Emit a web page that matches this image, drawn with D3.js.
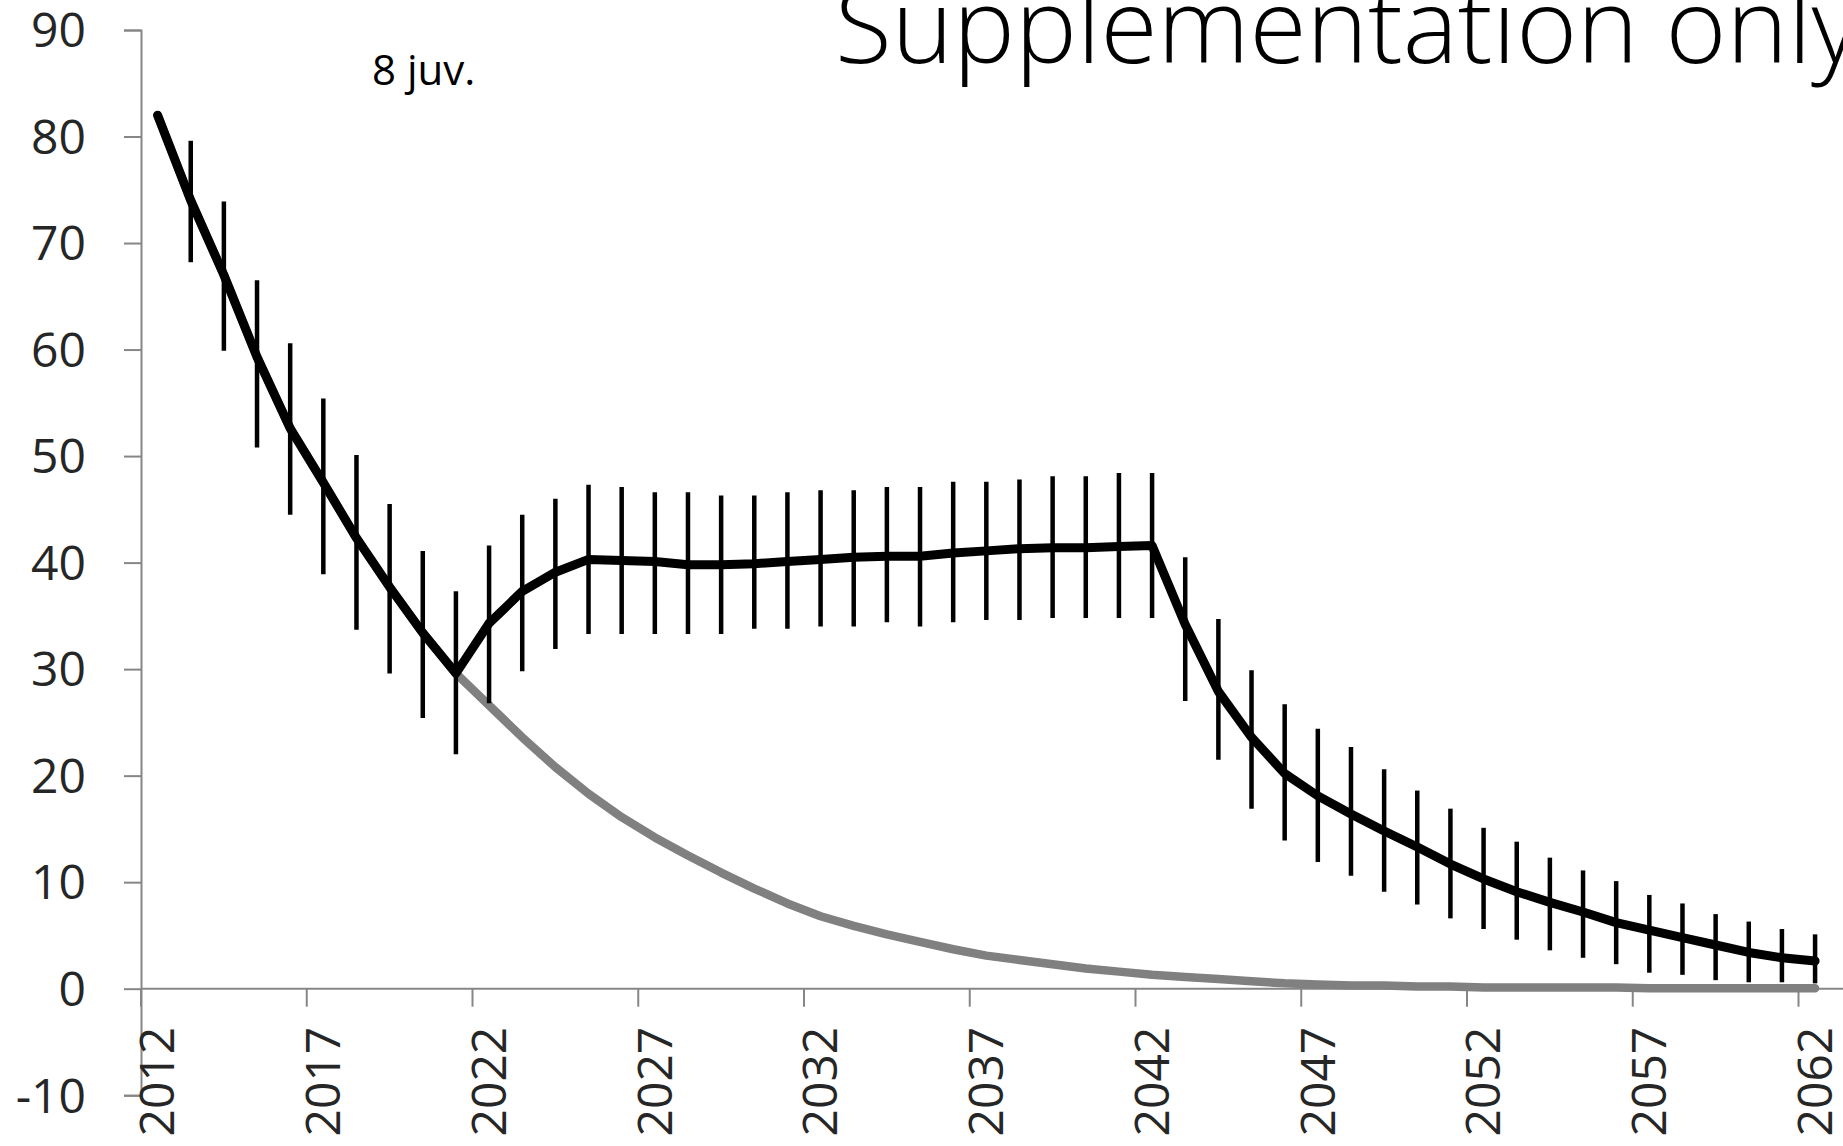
<!DOCTYPE html>
<html>
<head>
<meta charset="utf-8">
<script src="https://cdn.jsdelivr.net/npm/d3@7"></script>
<style>
  html, body { margin: 0; padding: 0; background: #ffffff; overflow: hidden; }
  svg { display: block; }
</style>
</head>
<body>
<svg id="chart" width="1843" height="1146"></svg>
<script>
// ---- data ----
const years = [2012,2013,2014,2015,2016,2017,2018,2019,2020,2021,2022,2023,2024,2025,2026,2027,2028,2029,2030,2031,
  2032,2033,2034,2035,2036,2037,2038,2039,2040,2041,2042,2043,2044,2045,2046,2047,2048,2049,2050,2051,
  2052,2053,2054,2055,2056,2057,2058,2059,2060,2061,2062];

const supplemented = [82.0,74.0,67.0,59.3,52.6,47.5,42.3,37.7,33.4,29.6,
  34.3,37.3,39.1,40.3,40.2,40.1,39.8,39.8,39.9,40.1,
  40.3,40.5,40.6,40.6,40.9,41.1,41.3,41.4,41.4,41.5,
  41.6,34.2,27.9,23.6,20.2,18.1,16.4,14.8,13.3,11.7,
  10.3,9.1,8.1,7.2,6.2,5.5,4.8,4.1,3.4,2.9,2.6];

const errUpper = [null,79.6,73.9,66.5,60.6,55.4,50.1,45.5,41.1,37.3,
  41.6,44.5,46.0,47.3,47.1,46.6,46.6,46.3,46.3,46.6,
  46.8,46.8,47.1,47.1,47.6,47.6,47.8,48.1,48.1,48.4,
  48.4,40.5,34.7,29.9,26.7,24.4,22.7,20.6,18.6,16.9,
  15.1,13.8,12.3,11.1,10.1,8.8,8.0,7.0,6.3,5.6,5.1];

const errLower = [null,68.2,59.9,50.8,44.5,38.9,33.7,29.6,25.4,22.0,
  26.8,29.8,31.9,33.3,33.3,33.3,33.3,33.3,33.8,33.8,
  34.0,34.0,34.4,34.0,34.4,34.6,34.6,34.8,34.8,34.8,
  34.8,27.0,21.5,16.9,13.9,11.9,10.6,9.1,7.9,6.6,
  5.6,4.6,3.6,2.9,2.3,1.5,1.3,0.8,0.6,0.6,0.5];

const noSupplement = [82.0,74.0,67.0,59.3,52.6,47.5,42.3,37.7,33.4,29.6,
  26.6,23.6,20.8,18.3,16.1,14.2,12.5,10.9,9.4,8.0,
  6.8,5.9,5.1,4.4,3.7,3.1,2.7,2.3,1.9,1.6,
  1.3,1.1,0.9,0.7,0.5,0.4,0.3,0.3,0.2,0.2,
  0.1,0.1,0.1,0.1,0.1,0.05,0.05,0.05,0.05,0.05,0.05];

const yTicks = [-10,0,10,20,30,40,50,60,70,80,90];
const xTickLabels = ["2012","2017","2022","2027","2032","2037","2042","2047","2052","2057","2062"];

const titleText = "Supplementation only";
const annotationText = "8 juv.";

// ---- layout ----
const svg = d3.select("#chart");
const axisColor = "#868686";
const labelColor = "#262626";
const fontFamily = "'Open Sans', 'Noto Sans', sans-serif";

const x = d3.scaleBand()
  .domain(years.map(String))
  .range([141, 141 + 51 * 33.15])
  .paddingInner(0).paddingOuter(0);
const cx = d => x(String(d)) + x.bandwidth() / 2;

const y = d3.scaleLinear().domain([-10, 90]).range([1095.2, 30]);

// ---- y axis ----
const yAxis = d3.axisLeft(y).tickValues(yTicks).tickSize(17).tickPadding(38).tickFormat(d => String(d));
const gy = svg.append("g").attr("transform", "translate(141,0)").call(yAxis);
gy.select(".domain").attr("stroke", axisColor).attr("stroke-width", 2);
gy.selectAll(".tick line").attr("stroke", axisColor).attr("stroke-width", 2);
gy.selectAll(".tick text")
  .attr("fill", labelColor)
  .style("font-family", fontFamily)
  .style("font-size", "48px")
  .attr("dy", "0.35em");

// ---- x axis (at y = 0) ----
const y0 = y(0);
svg.append("line")
  .attr("x1", 141).attr("x2", 1843)
  .attr("y1", y0).attr("y2", y0)
  .attr("stroke", axisColor).attr("stroke-width", 2);

const tickYears = xTickLabels.map(Number);
svg.append("g").selectAll("line.xt")
  .data(tickYears)
  .join("line")
  .attr("class", "xt")
  .attr("x1", d => x(String(d))).attr("x2", d => x(String(d)))
  .attr("y1", y0).attr("y2", y0 + 18)
  .attr("stroke", axisColor).attr("stroke-width", 2);

svg.append("g").selectAll("text.xl")
  .data(xTickLabels)
  .join("text")
  .attr("class", "xl")
  .attr("transform", d => `translate(${cx(+d)},${y0 + 38}) rotate(-90)`)
  .attr("text-anchor", "end")
  .attr("dy", "0.35em")
  .attr("fill", labelColor)
  .style("font-family", fontFamily)
  .style("font-size", "48px")
  .text(d => d);

// ---- lines ----
const line = d3.line()
  .x((d, i) => cx(years[i]))
  .y(d => y(d));

svg.append("path")
  .datum(noSupplement)
  .attr("d", line)
  .attr("fill", "none")
  .attr("stroke", "#808080")
  .attr("stroke-width", 8.5)
  .attr("stroke-linejoin", "round")
  .attr("stroke-linecap", "round");

svg.append("path")
  .datum(supplemented)
  .attr("d", line)
  .attr("fill", "none")
  .attr("stroke", "#000000")
  .attr("stroke-width", 9)
  .attr("stroke-linejoin", "round")
  .attr("stroke-linecap", "round");

// ---- error bars ----
const errData = years.map((yr, i) => ({ yr, hi: errUpper[i], lo: errLower[i] }))
  .filter(d => d.hi !== null && d.lo !== null);

svg.append("g").selectAll("line.err")
  .data(errData)
  .join("line")
  .attr("class", "err")
  .attr("x1", d => cx(d.yr)).attr("x2", d => cx(d.yr))
  .attr("y1", d => y(d.hi)).attr("y2", d => y(d.lo))
  .attr("stroke", "#000000")
  .attr("stroke-width", 4.5);

// ---- texts ----
svg.append("text")
  .attr("x", 372).attr("y", 85)
  .attr("fill", "#000")
  .style("font-family", fontFamily)
  .style("font-size", "42px")
  .text(annotationText);

svg.append("text")
  .attr("x", 835).attr("y", 63)
  .attr("fill", "#000")
  .style("font-family", fontFamily)
  .style("font-size", "104px")
  .style("font-weight", 300)
  .text(titleText);
</script>
</body>
</html>
